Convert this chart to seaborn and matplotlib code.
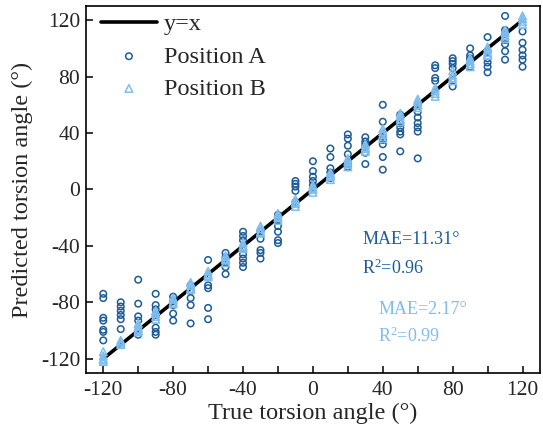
import matplotlib
matplotlib.use("Agg")
import matplotlib.pyplot as plt
import seaborn as sns
import pandas as pd

# True torsion angles (deg) and the predicted angles at each of them
true_angles = [-120, -110, -100, -90, -80, -70, -60, -50, -40, -30, -20, -10,
               0, 10, 20, 30, 40, 50, 60, 70, 80, 90, 100, 110, 120]

pred_a = [
    [-74, -77, -91, -93, -99.5, -101, -107],
    [-80, -83, -86, -89, -92, -99],
    [-64, -81, -90, -93, -101, -103],
    [-74, -82, -85, -89, -98, -101, -103],
    [-76, -79, -82, -88, -93],
    [-68, -72, -77, -82, -95],
    [-50, -68, -70, -84, -92],
    [-45, -48, -52, -55, -60],
    [-30, -33, -36, -46, -49, -52, -55],
    [-30, -35, -43, -45, -49],
    [-18, -22, -26, -30, -36, -38],
    [6, 4, 2, -1, -9],
    [20, 13, 9, 6, 3],
    [29, 23, 15, 12, 8],
    [39, 36, 31, 25, 18, 16],
    [37, 34, 32, 30, 26, 18],
    [60, 48, 38, 35, 32, 23, 14],
    [53, 47, 44, 41, 39, 27],
    [60, 55, 51, 47, 44, 41, 22],
    [88, 86, 79, 77],
    [93, 91, 89, 86, 73],
    [100, 95, 93, 92, 87],
    [108, 98, 93, 90, 87, 83],
    [123, 113, 110, 106, 103, 98, 92],
    [112, 104, 99, 95, 92, 87],
]

pred_b = [
    [-115, -118, -120, -121, -122],
    [-107, -108, -109, -110],
    [-95, -97, -99, -100, -101],
    [-86, -88, -90, -92],
    [-77, -78, -80, -81],
    [-66, -68, -70, -71],
    [-58, -60, -61, -62],
    [-47, -49, -50, -52],
    [-38, -40, -41, -42],
    [-26, -28, -30, -31],
    [-17, -19, -20, -22],
    [-7, -9, -10, -12],
    [3, 1, 0, -2],
    [7, 9, 10, 12],
    [16, 18, 20, 22],
    [27, 29, 30, 32],
    [36, 39, 41, 43],
    [48, 50, 52, 54],
    [58, 60, 62, 64],
    [66, 68, 70, 72],
    [77, 79, 81, 84],
    [87, 89, 91, 93],
    [95, 97, 99, 101],
    [107, 109, 111, 113],
    [117, 119, 121, 123],
]

identity_x = [-120, 120]
identity_y = [-120, 120]

x_ticks = [-120, -80, -40, 0, 40, 80, 120]
y_ticks = [-120, -80, -40, 0, 40, 80, 120]

stats_a = ["MAE=11.31°", "R$^2$=0.96"]
stats_b = ["MAE=2.17°", "R$^2$=0.99"]

color_a = "#1d5c98"
color_b = "#7fbdee"


def to_long(preds, name):
    rows = []
    for t, vals in zip(true_angles, preds):
        for v in vals:
            rows.append({"true": t, "pred": v, "position": name})
    return pd.DataFrame(rows)


df_a = to_long(pred_a, "Position A")
df_b = to_long(pred_b, "Position B")
df_line = pd.DataFrame({"x": identity_x, "y": identity_y})

sns.set_style("ticks")
plt.rcParams["font.family"] = ["Liberation Serif", "DejaVu Serif"]
plt.rcParams["mathtext.fontset"] = "custom"
plt.rcParams["mathtext.rm"] = "Liberation Serif"
plt.rcParams["mathtext.it"] = "Liberation Serif:italic"
plt.rcParams["mathtext.default"] = "regular"
plt.rcParams["axes.unicode_minus"] = False

fig, ax = plt.subplots(figsize=(5.43, 4.33), dpi=100)
fig.subplots_adjust(left=0.158, right=0.9945, top=0.986, bottom=0.139)

sns.lineplot(data=df_line, x="x", y="y", color="black", linewidth=2.6,
             label="y=x", ax=ax, zorder=1)
sns.scatterplot(data=df_a, x="true", y="pred", marker="o", s=22,
                facecolor="none", edgecolor=color_a, linewidth=1.1,
                label="Position A", ax=ax, zorder=2)
sns.scatterplot(data=df_b, x="true", y="pred", marker="^", s=30,
                facecolor="none", edgecolor=color_b, linewidth=1.1,
                label="Position B", ax=ax, zorder=3)

ax.set_xlim(-130, 130)
ax.set_ylim(-130, 130)
ax.set_xticks(x_ticks)
ax.set_xticks(range(-120, 121, 20), minor=True)
ax.set_yticks(y_ticks)
ax.tick_params(axis="both", which="both", direction="in", length=5,
               width=1.1, labelsize=15.5, color="black")
ax.tick_params(axis="x", which="both", pad=6)
ax.tick_params(axis="y", which="both", pad=4)
ax.tick_params(axis="y", which="minor", length=0)
for s in ax.spines.values():
    s.set_linewidth(1.2)
    s.set_color("black")

ax.set_xlabel("True torsion angle (°)", fontsize=17.5, labelpad=2)
ax.set_ylabel("Predicted torsion angle (°)", fontsize=17.5, labelpad=6)

ax.text(28.2, -35.8, stats_a[0], color=color_a, fontsize=13, va="center")
ax.text(28.2, -55.6, stats_a[1], color=color_a, fontsize=13, va="center")
ax.text(37.3, -85.3, stats_b[0], color=color_b, fontsize=13, va="center")
ax.text(37.3, -104.4, stats_b[1], color=color_b, fontsize=13, va="center")

ax.legend(loc="upper left", bbox_to_anchor=(0.012, 1.0066), frameon=False,
          fontsize=17.5, handlelength=2.3, labelspacing=0.42,
          borderaxespad=0, handletextpad=0.3, scatterpoints=1)

fig.savefig("out.png", dpi=100)
